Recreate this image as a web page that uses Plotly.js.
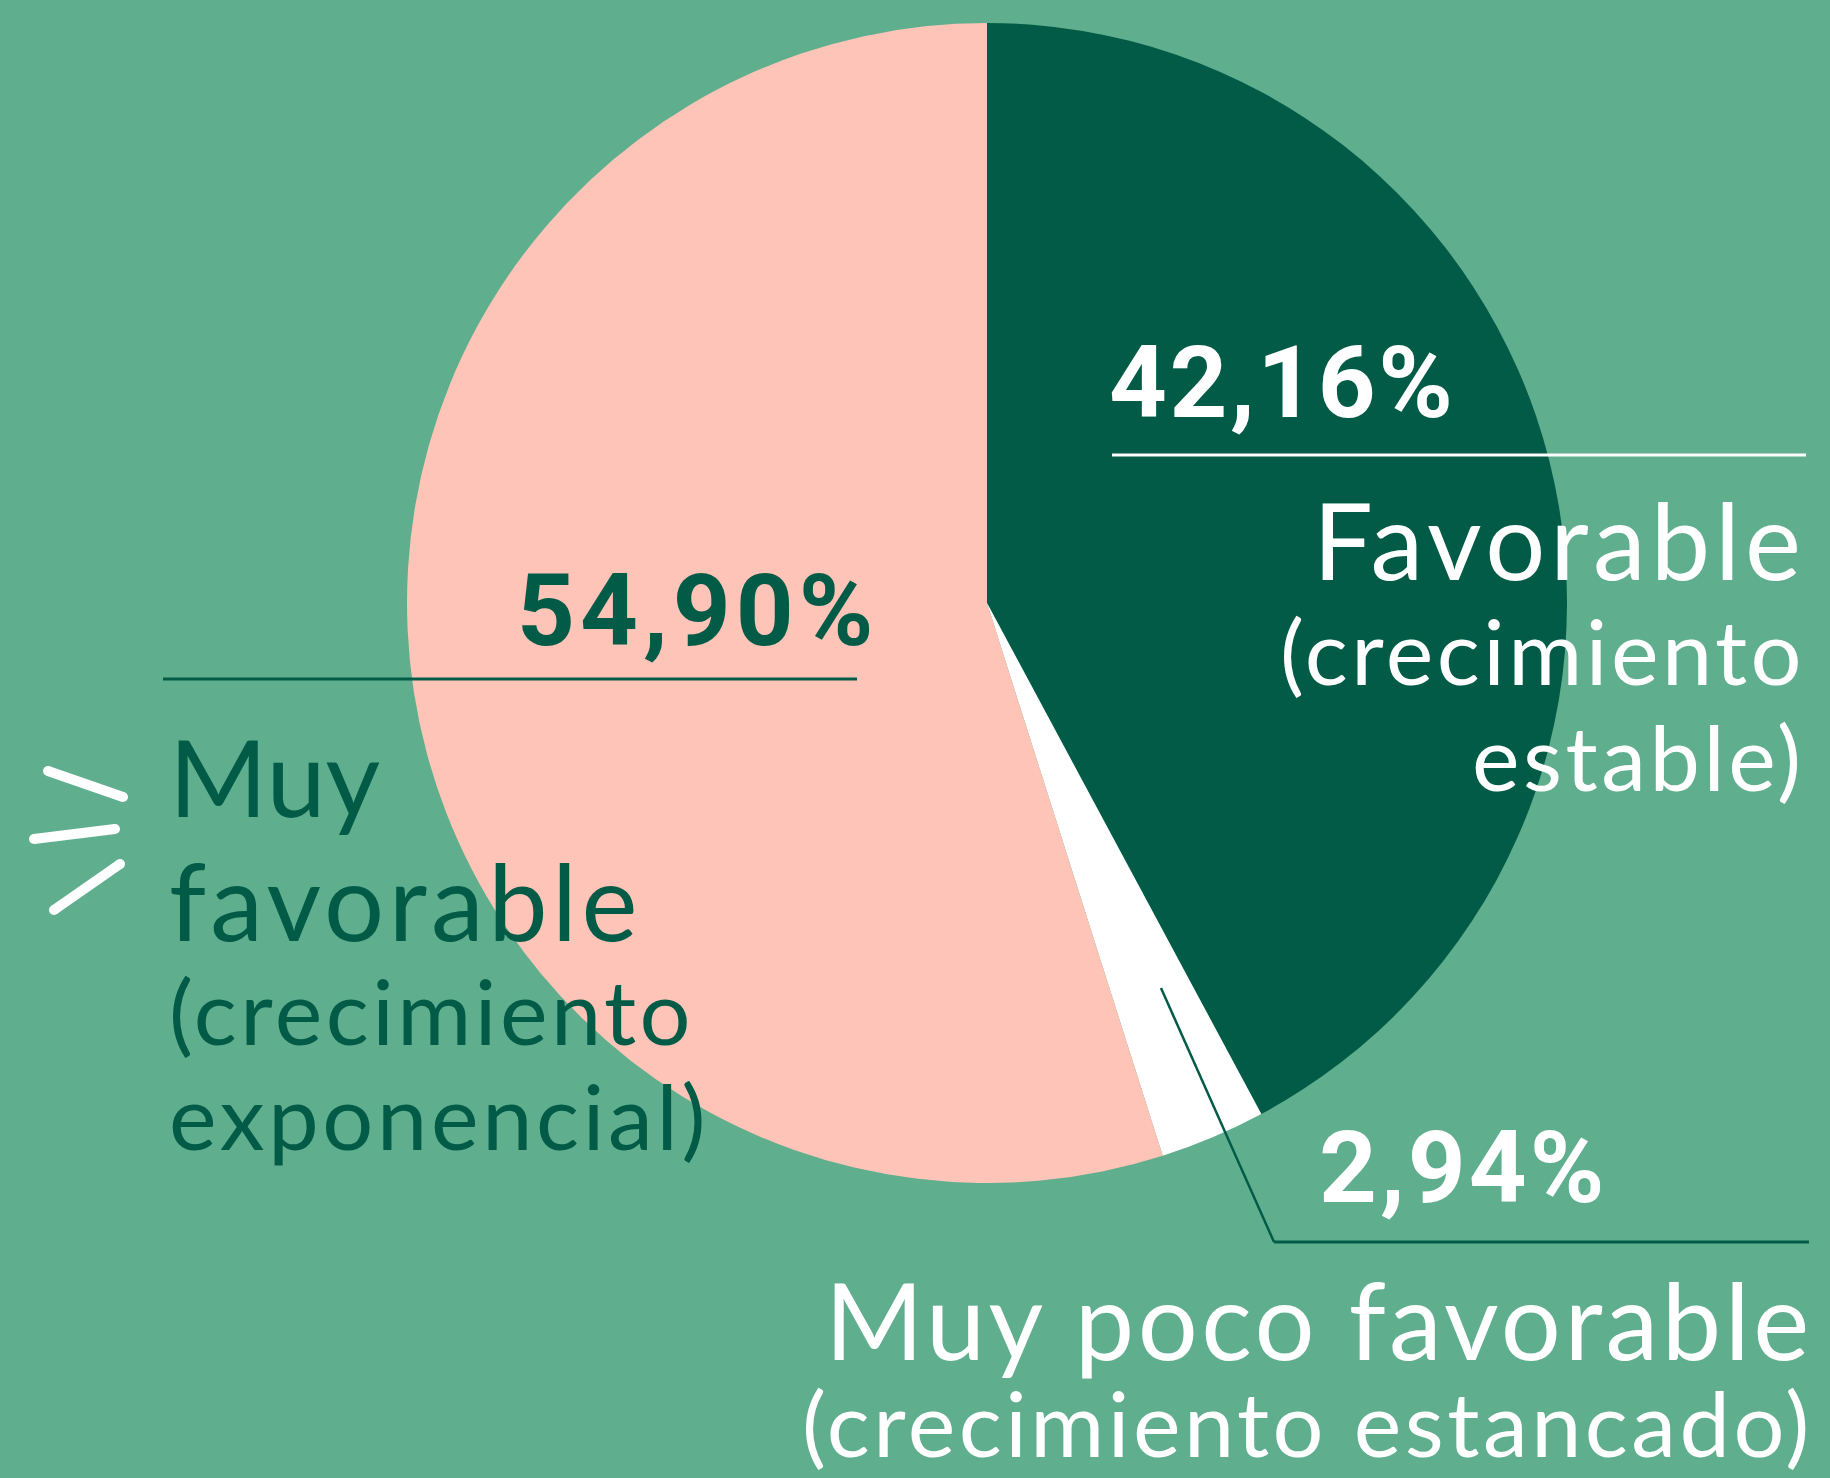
<!DOCTYPE html>
<html>
<head>
<meta charset="utf-8">
<script src="https://cdn.plot.ly/plotly-3.0.1.min.js"></script>
<style>
html,body{margin:0;padding:0;background:#5FAE8E;}
#chart{width:1830px;height:1478px;}
</style>
</head>
<body>
<div id="chart"></div>
<script>
// ---- data ----
const categories = ["Favorable (crecimiento estable)", "Muy poco favorable (crecimiento estancado)", "Muy favorable (crecimiento exponencial)"];
const shares = [42.16, 2.94, 54.90];
const shareLabels = ["42,16%", "2,94%", "54,90%"];
const sliceColors = ["#025B47", "#FFFFFF", "#FEC4B7"];

const W = 1830, H = 1478;
const BG = "#5FAE8E", DARK = "#025B47", WHITE = "#FFFFFF";
const px = x => x / W;
const py = y => 1 - y / H;

// pie geometry (center and radius in pixels)
const cx = 987, cy = 603, R = 580;

const trace = {
  type: "pie",
  labels: categories,
  values: shares,
  sort: false,
  direction: "clockwise",
  rotation: 0,
  marker: {colors: sliceColors, line: {width: 0}},
  textinfo: "none",
  hoverinfo: "none",
  showlegend: false,
  domain: {x: [px(cx - R), px(cx + R)], y: [py(cy + R), py(cy - R)]}
};

const LABEL_FONT = "Lato, 'Open Sans', sans-serif";
const NUM_FONT = "Roboto, 'Open Sans', sans-serif";
const LATO_DESC = 0.213, ROBOTO_DESC = 0.244;

function txt(text, x, baseline, size, color, anchor, family, desc, weight, ls) {
  const t = ls ? '<span style="letter-spacing:' + ls + 'px">' + text + '</span>' : text;
  return {
    text: t, xref: "paper", yref: "paper",
    x: px(anchor === "right" ? x + (ls || 0) : x), y: py(baseline + desc * size),
    xanchor: anchor, yanchor: "bottom",
    showarrow: false, borderpad: 0, borderwidth: 0,
    font: {family: family, size: size, color: color, weight: weight || 400}
  };
}

const MAIN = 106, SUB = 90, NUM = 101;

const annotations = [
  // Favorable
  txt(shareLabels[0], 1109, 417, NUM, WHITE, "left", NUM_FONT, ROBOTO_DESC, 700, 2.5),
  txt("Favorable", 1801, 580, MAIN, WHITE, "right", LABEL_FONT, LATO_DESC, 400, 5),
  txt("(crecimiento", 1801, 685, SUB, WHITE, "right", LABEL_FONT, LATO_DESC, 400, 3.5),
  txt("estable)", 1801, 791, SUB, WHITE, "right", LABEL_FONT, LATO_DESC, 400, 3.5),
  // Muy favorable
  txt(shareLabels[2], 873, 645, NUM, DARK, "right", NUM_FONT, ROBOTO_DESC, 700, 5),
  txt("Muy", 169, 817, MAIN, DARK, "left", LABEL_FONT, LATO_DESC, 400, 0),
  txt("favorable", 169, 941, MAIN, DARK, "left", LABEL_FONT, LATO_DESC, 400, 4.5),
  txt("(crecimiento", 169, 1045, SUB, DARK, "left", LABEL_FONT, LATO_DESC, 400, 3.5),
  txt("exponencial)", 169, 1150, SUB, DARK, "left", LABEL_FONT, LATO_DESC, 400, 3.7),
  // Muy poco favorable
  txt(shareLabels[1], 1319, 1202, NUM, WHITE, "left", NUM_FONT, ROBOTO_DESC, 700, 3),
  txt("Muy poco favorable", 1809, 1360, MAIN, WHITE, "right", LABEL_FONT, LATO_DESC, 400, 3.5),
  txt("(crecimiento estancado)", 1809, 1457, SUB, WHITE, "right", LABEL_FONT, LATO_DESC, 400, 3.5)
];

function seg(x0, y0, x1, y1, color, w) {
  return {type: "line", xref: "paper", yref: "paper",
    x0: px(x0), y0: py(y0), x1: px(x1), y1: py(y1),
    line: {color: color, width: w}};
}
function dot(x, y, r, color) {
  return {type: "circle", xref: "paper", yref: "paper",
    x0: px(x - r), x1: px(x + r), y0: py(y + r), y1: py(y - r),
    fillcolor: color, line: {width: 0}};
}
function stroke(x0, y0, x1, y1, color, w) {
  return [seg(x0, y0, x1, y1, color, w), dot(x0, y0, w / 2, color), dot(x1, y1, w / 2, color)];
}

const shapes = [
  seg(1112, 455, 1806, 455, WHITE, 3),
  seg(163, 679, 857, 679, DARK, 3),
  seg(1161, 988, 1274, 1242, DARK, 2.5),
  seg(1274, 1242, 1809, 1242, DARK, 3),
  ...stroke(48, 771, 123, 797, WHITE, 10),
  ...stroke(34, 839, 115, 829, WHITE, 10),
  ...stroke(54, 910, 120, 864, WHITE, 10)
];

const layout = {
  width: W, height: H,
  margin: {l: 0, r: 0, t: 0, b: 0, pad: 0},
  paper_bgcolor: BG, plot_bgcolor: BG,
  showlegend: false,
  annotations: annotations,
  shapes: shapes
};

Plotly.newPlot("chart", [trace], layout, {displayModeBar: false, staticPlot: true});
</script>
</body>
</html>
